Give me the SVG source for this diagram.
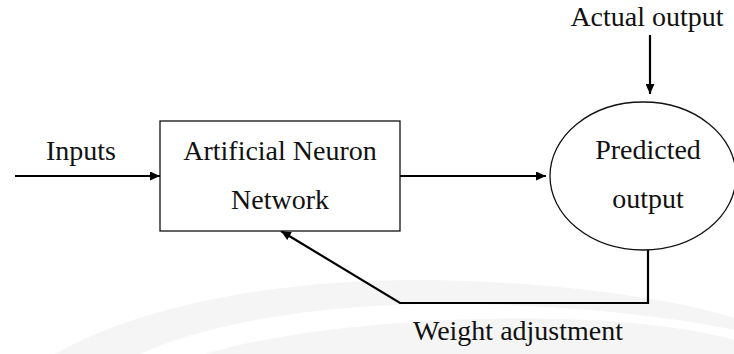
<svg xmlns="http://www.w3.org/2000/svg" width="734" height="354" viewBox="0 0 734 354">
  <style>
    .lbl { font-family: 'Liberation Serif', 'Times New Roman', Times, 'DejaVu Serif', serif; font-size: 28px; fill: #111; }
    .shape { fill: #fff; stroke: #111; stroke-width: 1.3; }
    .conn { fill: none; stroke: #000; stroke-width: 2.2; }
    .wm { fill: #f5f5f5; stroke: none; }
  </style>
  <defs>
    <marker id="arrow" viewBox="0 0 10 9" refX="10" refY="4.5" markerWidth="10" markerHeight="9" markerUnits="userSpaceOnUse" orient="auto">
      <path d="M0,0 L10,4.5 L0,9 Z" fill="#000"/>
    </marker>
  </defs>
  <rect width="734" height="354" fill="#fff"/>
  <g id="watermark">
    <path class="wm" d="M55,354 C150,300 300,278 430,280 C560,282 680,300 734,318 L734,330 C650,312 520,302 420,304 C300,307 200,326 140,354 Z"/>
    <path class="wm" d="M205,354 C300,326 450,316 560,319 C640,321 700,330 734,340 L734,354 Z"/>
  </g>
  <g id="connectors">
    <line class="conn" x1="15" y1="176" x2="160" y2="176" marker-end="url(#arrow)"/>
    <line class="conn" x1="400" y1="176" x2="546" y2="176" marker-end="url(#arrow)"/>
    <line class="conn" x1="650" y1="35" x2="650" y2="94" marker-end="url(#arrow)"/>
    <polyline class="conn" points="648,250 648,303 400,303 281,231" marker-end="url(#arrow)"/>
  </g>
  <g id="inputs">
    <text class="lbl" x="81" y="160" text-anchor="middle">Inputs</text>
  </g>
  <g id="ann">
    <rect class="shape" x="160" y="121" width="240" height="110"/>
    <text class="lbl" x="280" y="160" text-anchor="middle">Artificial Neuron</text>
    <text class="lbl" x="280" y="209" text-anchor="middle">Network</text>
  </g>
  <g id="predicted">
    <ellipse class="shape" cx="643" cy="176" rx="93" ry="74"/>
    <text class="lbl" x="648" y="159" text-anchor="middle">Predicted</text>
    <text class="lbl" x="648" y="208" text-anchor="middle">output</text>
  </g>
  <g id="actual">
    <text class="lbl" x="647" y="26" text-anchor="middle">Actual output</text>
  </g>
  <g id="weight">
    <text class="lbl" x="518" y="340" text-anchor="middle">Weight adjustment</text>
  </g>
</svg>
